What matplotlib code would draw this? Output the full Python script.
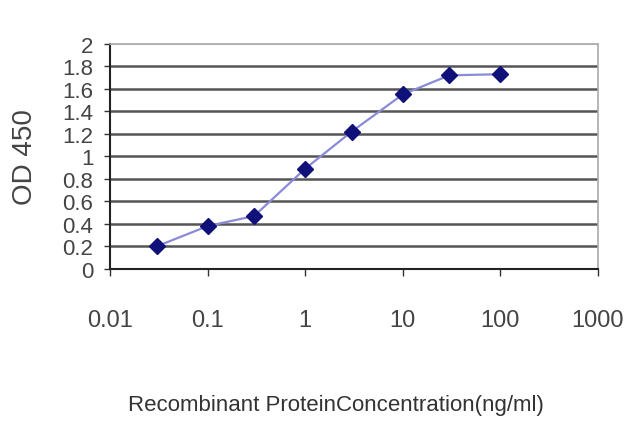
import numpy as np
import matplotlib.pyplot as plt
from matplotlib.ticker import FixedLocator, NullLocator

# Data
conc = [0.03, 0.1, 0.3, 1, 3, 10, 30, 100]
od450 = [0.20, 0.38, 0.47, 0.89, 1.22, 1.55, 1.72, 1.73]

xticks = [0.01, 0.1, 1, 10, 100, 1000]
xticklabels = ['0.01', '0.1', '1', '10', '100', '1000']
yticks = [0, 0.2, 0.4, 0.6, 0.8, 1, 1.2, 1.4, 1.6, 1.8, 2]
yticklabels = ['0', '0.2', '0.4', '0.6', '0.8', '1', '1.2', '1.4', '1.6', '1.8', '2']

plt.rcParams['font.family'] = ['Liberation Sans', 'DejaVu Sans']

fig = plt.figure(figsize=(6.4, 4.27), dpi=100)
ax = fig.add_axes([0.172, 0.368, 0.762, 0.527])

ax.set_xscale('log')
ax.set_xlim(0.01, 1000)
ax.set_ylim(0, 2)

# horizontal grid
for y in yticks[1:-1]:
    ax.axhline(y, color='#555555', lw=1.8, zorder=1)
ax.axhline(2, color='#aaaaaa', lw=1.2, zorder=1)

ax.plot(conc, od450, color='#8a8ad8', lw=1.6, zorder=2)
ax.plot(conc, od450, linestyle='none', marker='D', ms=8,
        color='#10107a', zorder=3)

ax.xaxis.set_major_locator(FixedLocator(xticks))
ax.xaxis.set_minor_locator(NullLocator())
ax.set_xticklabels(xticklabels)
ax.set_yticks(yticks)
ax.set_yticklabels(yticklabels)

ax.tick_params(axis='x', length=5, width=1, color='#333333', labelsize=17,
               labelcolor='#444444', pad=24)
ax.tick_params(axis='y', length=4, width=1, color='#333333', labelsize=16,
               labelcolor='#444444', pad=8)

for s in ['left', 'bottom']:
    ax.spines[s].set_color('#222222')
    ax.spines[s].set_linewidth(1.5)
for s in ['top', 'right']:
    ax.spines[s].set_color('#aaaaaa')
    ax.spines[s].set_linewidth(1.2)

fig.text(0.039, 0.632, 'OD 450', rotation=90, ha='center', va='center',
         fontsize=20, color='#444444')
fig.text(0.525, 0.05, 'Recombinant ProteinConcentration(ng/ml)', ha='center',
         va='center', fontsize=16, color='#333333')

fig.savefig('out.png', dpi=100)
